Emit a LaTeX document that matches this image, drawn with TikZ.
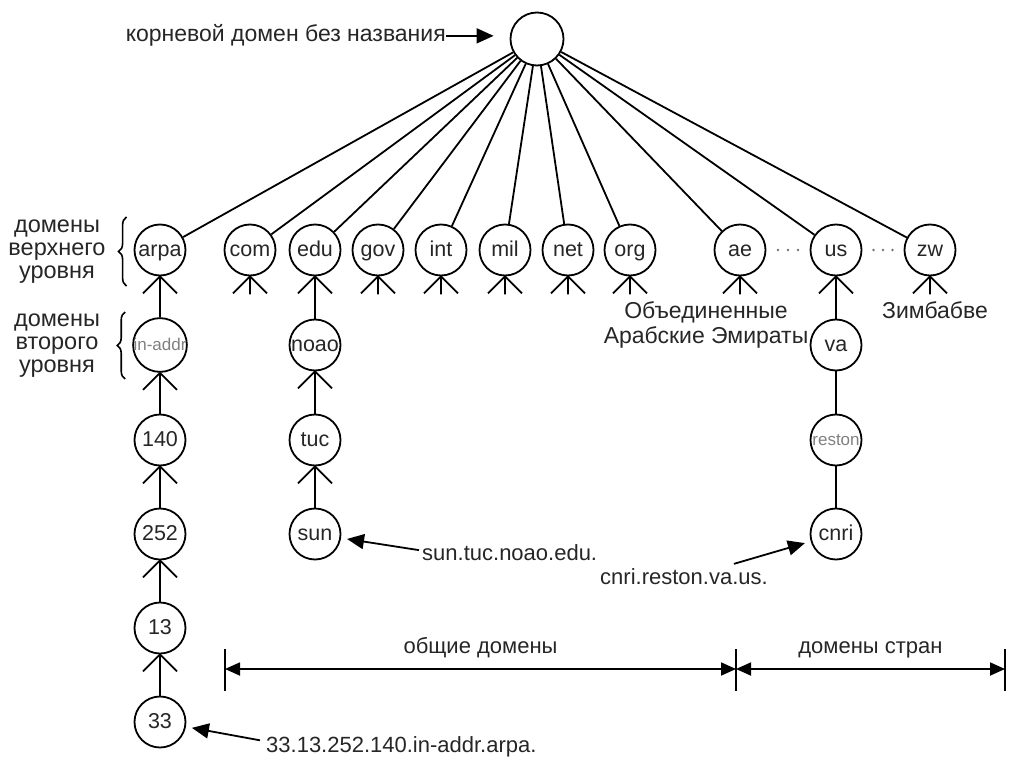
\documentclass[tikz,border=0pt]{standalone}
\usepackage{fontspec}
\setmainfont{Liberation Sans}
\usetikzlibrary{arrows.meta,decorations.pathreplacing,calc}
% crow's foot under a parent domain; the leaf version adds the middle stub
\newcommand\crowfoot[1]{\draw[link] (#1.south) -- ++(-17,17) (#1.south) -- ++(17,17);}
\newcommand\leaffoot[1]{\draw[link] (#1.south) -- ++(-17,17) (#1.south) -- ++(0,18) (#1.south) -- ++(17,17);}
\begin{document}
\begin{tikzpicture}[x=1pt,y=-1pt,
  dom/.style={circle,draw,line width=1.8pt,minimum size=51pt,inner sep=0pt,
              font=\fontsize{21.5}{21.5}\selectfont,text=black!85,
              text height=12.5pt,text depth=0pt},
  faint/.style={dom,font=\fontsize{17}{17}\selectfont,text=black!50,
              text height=10pt},
  link/.style={line width=1.8pt},
  lbl/.style={font=\fontsize{22}{25}\selectfont,text=black!85,inner sep=0pt},
  side/.style={lbl,align=center,font=\fontsize{23.5}{23}\selectfont},
  ptr/.style={line width=1.8pt,-{Triangle[length=17pt,width=15pt]}},
  dimtip/.style={line width=1.8pt,{Triangle[length=15pt,width=13pt]}-{Triangle[length=15pt,width=13pt]}},
  dot/.style={circle,fill=black!55,inner sep=0pt,minimum size=2.8pt},
  brc/.style={line width=1.6pt,decorate,decoration={brace,amplitude=8pt}},
]
\useasboundingbox (0,0) rectangle (1011,762);

% root of the tree
\node[dom,minimum size=53pt] (root) at (537,39) {};

% top-level domains
\foreach \n/\x/\t in {arpa/160/arpa,com/250/com,edu/315/edu,gov/378/gov,int/441/int,
                      mil/505/mil,net/568/net,org/630/org,ae/740/ae,us/836/us,zw/930/zw}
  {\node[dom] (\n) at (\x,250) {\t};}
\foreach \n in {arpa,com,edu,gov,int,mil,net,org,ae,us,zw}
  {\draw[link] (root) -- (\n);}

% inverse-address branch
\node[faint] (inaddr) at (160,345) {in-addr};
\node[dom] (n140) at (160,440) {140};
\node[dom] (n252) at (160,534) {252};
\node[dom] (n13)  at (160,628) {13};
\node[dom] (n33)  at (160,722) {33};

% edu branch
\node[dom] (noao) at (315,345) {noao};
\node[dom] (tuc)  at (315,440) {tuc};
\node[dom] (sun)  at (315,534) {sun};

% us branch
\node[dom]   (va)     at (836,345) {va};
\node[faint] (reston) at (836,440) {reston};
\node[dom]   (cnri)   at (836,534) {cnri};

% child-to-parent links
\foreach \c/\p in {inaddr/arpa,n140/inaddr,n252/n140,n13/n252,n33/n13,
                   noao/edu,tuc/noao,sun/tuc,va/us}
  {\draw[link] (\c) -- (\p); \crowfoot{\p}}
\draw[link] (reston) -- (va);
\draw[link] (cnri) -- (reston);
\foreach \n in {com,gov,int,mil,net,org,ae,zw}
  {\leaffoot{\n}}

% elided country domains
\path (ae.east) -- (us.west) node[dot,pos=0.27]{} node[dot,pos=0.5]{} node[dot,pos=0.73]{};
\path (us.east) -- (zw.west) node[dot,pos=0.27]{} node[dot,pos=0.5]{} node[dot,pos=0.73]{};

% root caption
\node[lbl,font=\fontsize{23}{25}\selectfont,anchor=base east] (rootlbl) at (446,42) {корневой домен без названия};
\draw[ptr,shorten >=16pt] (rootlbl.east) -- (rootlbl.east -| root.west);

% level captions with braces
\node[side] (toplbl) at (57,252) {домены\\верхнего\\уровня};
\node[side] (seclbl) at (57,346) {домены\\второго\\уровня};
\draw[brc] (toplbl.east -| arpa.west) ++(-7,34) coordinate (b1) -- ++(0,-69);
\draw[brc] (seclbl.east -| inaddr.west) ++(-7,33) coordinate (b2) -- ++(0,-67);

% country captions
\node[lbl,font=\fontsize{23}{25}\selectfont,align=center,anchor=base] (aelbl) at (706,343) {Объединенные\\Арабские Эмираты};
\node[lbl,font=\fontsize{23}{25}\selectfont,anchor=base] (zwlbl) at (935,318) {Зимбабве};

% full-name pointers
\node[lbl,anchor=base west] (sunlbl) at (422,560) {sun.tuc.noao.edu.};
\draw[ptr,shorten >=6pt] ($(sunlbl.west)+(-3,-2)$) -- (sun);
\node[lbl,anchor=base west] (cnrilbl) at (600,584) {cnri.reston.va.us.};
\draw[ptr,shorten >=6pt] ($(cnrilbl.north east)+(-34,-4)$) -- (cnri);
\node[lbl,anchor=base west] (addrlbl) at (266,752) {33.13.252.140.in-addr.arpa.};
\draw[ptr,shorten >=6pt] ($(addrlbl.west)+(-6,-6)$) -- (n33);

% generic / country extents
\coordinate (d1) at (225,669);
\coordinate (d2) at (736,669);
\coordinate (d3) at (1005,669);
\foreach \d in {d1,d2,d3}
  {\draw[line width=1.6pt] (\d) ++(0,-20) -- ++(0,42);}
\draw[dimtip] (d1) -- (d2) node[midway,lbl,above=10pt] {общие домены};
\draw[dimtip] (d2) -- (d3) node[midway,lbl,above=10pt] {домены стран};
\end{tikzpicture}
\end{document}
